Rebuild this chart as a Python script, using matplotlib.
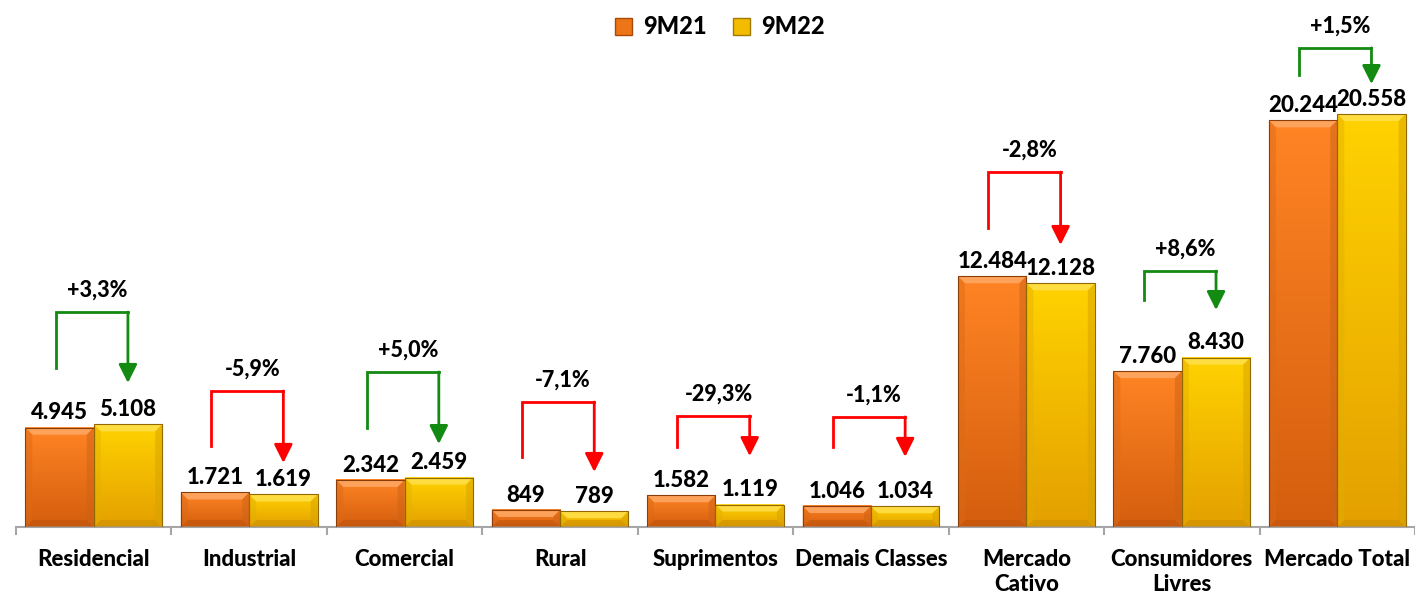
import matplotlib.pyplot as plt
import matplotlib as mpl
import numpy as np
from matplotlib.patches import Polygon, Patch

# data
categories = ["Residencial", "Industrial", "Comercial", "Rural", "Suprimentos",
              "Demais Classes", "Mercado\nCativo", "Consumidores\nLivres", "Mercado Total"]
v_9m21 = [4945, 1721, 2342, 849, 1582, 1046, 12484, 7760, 20244]
v_9m22 = [5108, 1619, 2459, 789, 1119, 1034, 12128, 8430, 20558]
labels_9m21 = ["4.945", "1.721", "2.342", "849", "1.582", "1.046", "12.484", "7.760", "20.244"]
labels_9m22 = ["5.108", "1.619", "2.459", "789", "1.119", "1.034", "12.128", "8.430", "20.558"]
variation = ["+3,3%", "-5,9%", "+5,0%", "-7,1%", "-29,3%", "-1,1%", "-2,8%", "+8,6%", "+1,5%"]

# bracket geometry (data units): top of bracket, start of left leg, arrow tip
bracket_top = [10700, 6770, 7720, 6220, 5530, 5480, 17670, 12740, 23850]
bracket_start = [7920, 4030, 4930, 3490, 3980, 3980, 14880, 11300, 22500]
bracket_tip = [7170, 3190, 4130, 2740, 3530, 3490, 14040, 10800, 22050]

WEIGHT = 900
mpl.rcParams["font.family"] = ["Lato", "DejaVu Sans"]
mpl.rcParams["font.weight"] = WEIGHT

W, H = 1415, 597
fig = plt.figure(figsize=(W / 100, H / 100), dpi=100)
ax_left, ax_bottom = 16 / W, 70 / H
ax = fig.add_axes([ax_left, ax_bottom, 1 - ax_left, 527 / H])

YMAX = 26234
ax.set_xlim(-0.5, 8.5)
ax.set_ylim(0, YMAX)

x = np.arange(len(categories))
width = 0.44
orange_top, orange_bot = "#FF8424", "#D45E0E"
yellow_top, yellow_bot = "#FFD200", "#E4A000"

b1 = ax.bar(x - 0.22, v_9m21, width, color="none", edgecolor="none")
b2 = ax.bar(x + 0.22, v_9m22, width, color="none", edgecolor="none")

# pixel -> data helpers
px_x = 9 / (W - 16)
px_y = YMAX / 527


def mix(c, other, t):
    c = np.array(mpl.colors.to_rgb(c))
    o = np.array(mpl.colors.to_rgb(other))
    return tuple(c * (1 - t) + o * t)


def bevel_bar(rect, ctop, cbot):
    x0, y0 = rect.get_x(), rect.get_y()
    w, h = rect.get_width(), rect.get_height()
    grad = np.linspace(0, 1, 64)[:, None]
    c1 = np.array(mpl.colors.to_rgb(ctop))
    c2 = np.array(mpl.colors.to_rgb(cbot))
    img = (c1[None, None, :] * (1 - grad[..., None]) + c2[None, None, :] * grad[..., None])
    ax.imshow(img, extent=[x0, x0 + w, y0, y0 + h], aspect="auto", zorder=2,
              interpolation="bilinear")
    bx, by = 7 * px_x, min(7 * px_y, h / 2.2)
    xl, xr, yb, yt = x0, x0 + w, y0, y0 + h
    ix0, ix1, iy0, iy1 = xl + bx, xr - bx, yb + by, yt - by
    mid = mix(ctop, cbot, 0.5)
    faces = [
        ([(xl, yt), (xr, yt), (ix1, iy1), (ix0, iy1)], mix(ctop, "white", 0.3), 0.85),
        ([(xl, yb), (xr, yb), (ix1, iy0), (ix0, iy0)], mix(cbot, "black", 0.12), 0.5),
        ([(xl, yb), (xl, yt), (ix0, iy1), (ix0, iy0)], mix(mid, "black", 0.06), 0.45),
        ([(xr, yb), (xr, yt), (ix1, iy1), (ix1, iy0)], mix(mid, "black", 0.12), 0.5),
    ]
    for pts, col, a in faces:
        ax.add_patch(Polygon(pts, closed=True, facecolor=col, edgecolor="none",
                             alpha=a, zorder=3))
    ax.add_patch(mpl.patches.Rectangle((x0, y0), w, h, facecolor="none",
                                       edgecolor=mix(cbot, "black", 0.35),
                                       lw=0.8, zorder=4))


for r in b1:
    bevel_bar(r, orange_top, orange_bot)
for r in b2:
    bevel_bar(r, yellow_top, yellow_bot)

for i in range(len(categories)):
    ax.annotate(labels_9m21[i], (x[i] - 0.22, v_9m21[i]), xytext=(0, 3),
                textcoords="offset points", ha="center", va="bottom",
                fontsize=16, fontweight=WEIGHT, zorder=6)
    ax.annotate(labels_9m22[i], (x[i] + 0.22, v_9m22[i]), xytext=(0, 3),
                textcoords="offset points", ha="center", va="bottom",
                fontsize=16, fontweight=WEIGHT, zorder=6)

    col = "#138A12" if variation[i].startswith("+") else "#FF0000"
    xa, xb = x[i] - 0.245, x[i] + 0.22
    ax.plot([xa, xa, xb], [bracket_start[i], bracket_top[i], bracket_top[i]],
            color=col, lw=2, solid_joinstyle="miter", zorder=5)
    ax.annotate("", xy=(xb, bracket_tip[i]), xytext=(xb, bracket_top[i]),
                arrowprops=dict(arrowstyle="-|>,head_width=0.4,head_length=0.8",
                                mutation_scale=14, color=col, lw=2,
                                shrinkA=0, shrinkB=0), zorder=5)
    ax.annotate(variation[i], (x[i] + 0.02, bracket_top[i]), xytext=(0, 8),
                textcoords="offset points", ha="center", va="bottom",
                fontsize=15.5, fontweight=WEIGHT, zorder=6)

# axes styling
for s in ["left", "right", "top"]:
    ax.spines[s].set_visible(False)
ax.spines["bottom"].set_color("#A6A6A6")
ax.spines["bottom"].set_linewidth(1.5)
ax.set_yticks([])
ax.set_xticks(x)
ax.set_xticklabels(categories, fontsize=16, fontweight=WEIGHT, linespacing=1.25)
ax.tick_params(axis="x", which="major", length=0, pad=16)
ax.set_xticks(np.arange(-0.5, 9.0, 1), minor=True)
ax.tick_params(axis="x", which="minor", length=6, width=1.5, color="#A6A6A6")

handles = [Patch(facecolor="#EE7418", edgecolor="#A84A08", label="9M21"),
           Patch(facecolor="#F4BC00", edgecolor="#A07A00", label="9M22")]
fig.legend(handles=handles, loc="center", bbox_to_anchor=(720 / W, 1 - 27 / H),
           ncol=2, frameon=False, prop=dict(weight=WEIGHT, size=17),
           handlelength=0.7, handleheight=0.7, handletextpad=0.5, columnspacing=1.1)

fig.savefig("out.png", dpi=100)
